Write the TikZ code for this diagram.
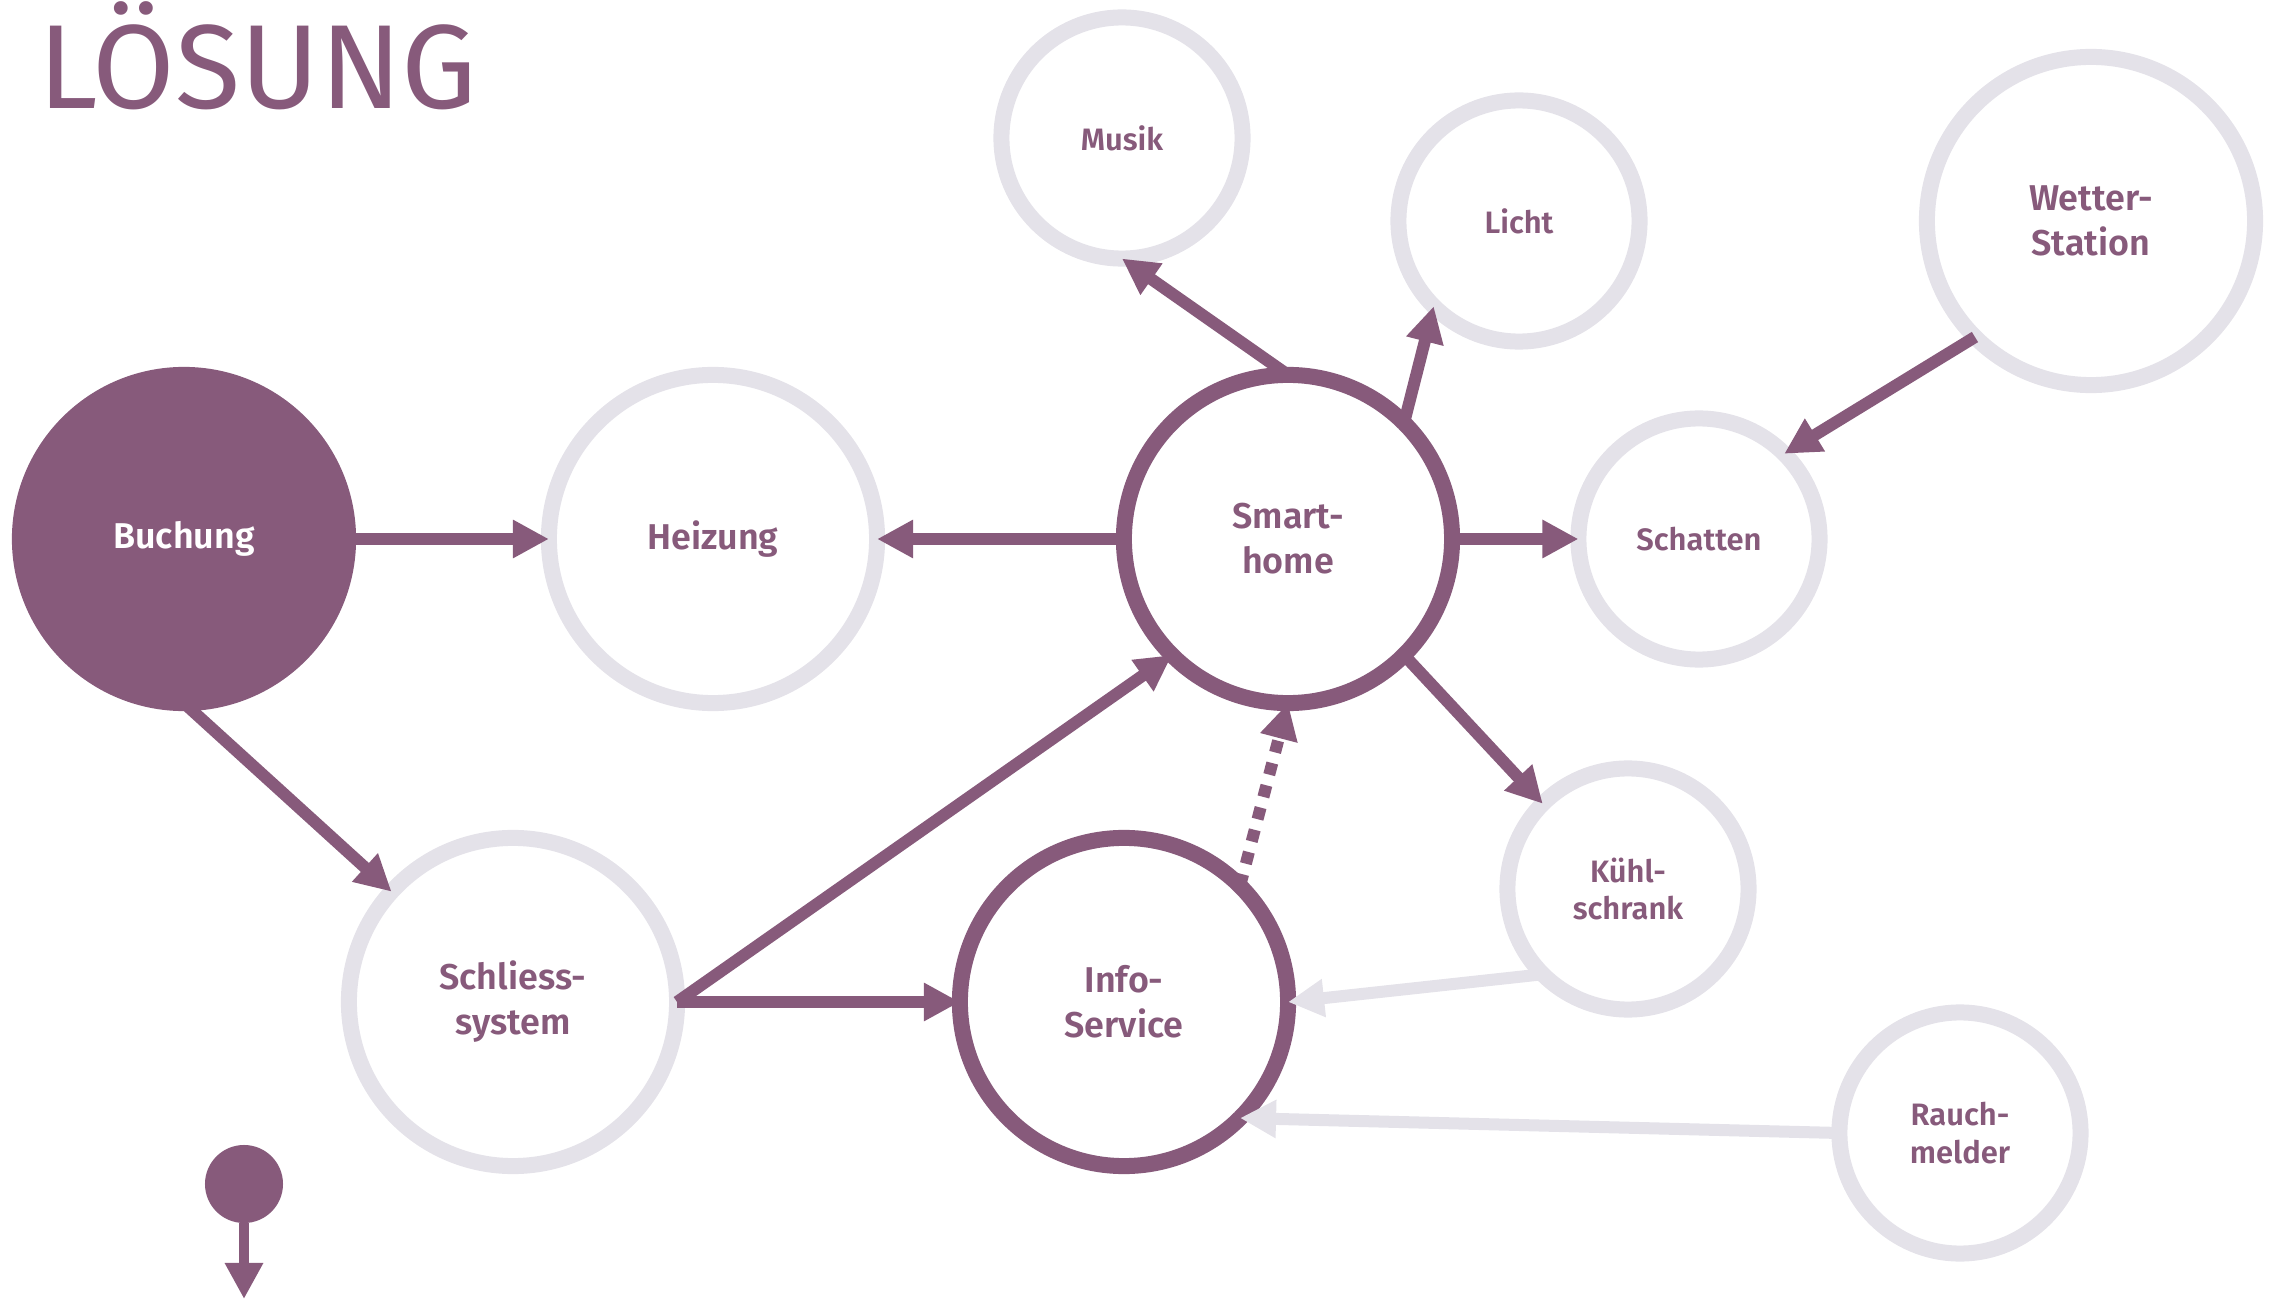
\documentclass[tikz,border=0pt]{standalone}
\usepackage{fontspec}
\setmainfont{Fira Sans}
\newfontfamily\titlefont{Fira Sans}
\newfontfamily\labelfont{Fira Sans SemiBold}
\usepackage{tikz}
\usetikzlibrary{arrows.meta}
\definecolor{lila}{HTML}{875A7B}
\definecolor{hell}{HTML}{E4E2E9}

\begin{document}
\begin{tikzpicture}[x=0.01cm, y=-0.01cm, >={Triangle[length=0.36cm,width=0.36cm]},
		big/.style={circle, minimum size=3.28cm, inner sep=0pt, outer sep=0pt, line width=0.16cm, fill=white, text=lila, align=center, font=\labelfont\fontsize{10.2}{12.8}\selectfont},
		small/.style={big, minimum size=2.41cm, font=\labelfont\fontsize{8.8}{10.8}\selectfont},
		ring/.style={draw=hell},
		core/.style={draw=lila},
		arr/.style={->, line width=0.12cm, draw=lila},
		greyarr/.style={arr, draw=hell}]
		\useasboundingbox (0,0) rectangle (2277,1300);

		\node[anchor=base west, inner sep=0pt, text=lila, font=\titlefont\fontsize{34}{34}\selectfont] (titel) at (38,109) {LÖSUNG};

		\node[big, core, fill=lila, text=white] (buchung) at (184,539) {Buchung};
		\node[big, ring] (heizung) at (713,539) {Heizung};
		\node[big, core] (smart) at (1288,539) {Smart-\\home};
		\node[small, ring] (schatten) at (1699,539) {Schatten};
		\node[small, ring] (musik) at (1122,138) {Musik};
		\node[small, ring] (licht) at (1519,221) {Licht};
		\node[big, ring] (wetter) at (2091,221) {Wetter-\\Station};
		\node[big, ring] (schliess) at (513,1002) {Schliess-\\system};
		\node[big, core] (info) at (1124,1002) {Info-\\Service};
		\node[small, ring] (kuehl) at (1628,889) {Kühl-\\schrank};
		\node[small, ring] (rauch) at (1960,1133) {Rauch-\\melder};

		\node[circle, fill=lila, minimum size=0.78cm, inner sep=0pt, outer sep=0pt] (start) at (244,1184) {};
		\coordinate (ende) at (244,1299);

		\draw[arr] (buchung) -- (heizung);
		\draw[arr] (buchung.south) -- (schliess);
		\draw[arr] (smart) -- (heizung);
		\draw[arr] (smart.north) -- (musik.south);
		\draw[arr] (smart.north east) -- (licht.south west);
		\draw[arr] (smart) -- (schatten);
		\draw[arr] (smart.south east) -- (kuehl.north west);
		\draw[arr] (wetter.south west) -- (schatten.north east);
		\draw[arr] (schliess.east) -- (smart.south west);
		\draw[arr] (schliess.east) -- (info.west);
		\draw[arr, dash pattern=on 0.12cm off 0.11cm] (info.north east) -- (smart.south);
		\draw[greyarr] (kuehl.south west) -- (info.east);
		\draw[greyarr] (rauch.west) -- (info.south east);
		\draw[arr, line width=0.1cm] (start) -- (ende);
	\end{tikzpicture}
\end{document}
